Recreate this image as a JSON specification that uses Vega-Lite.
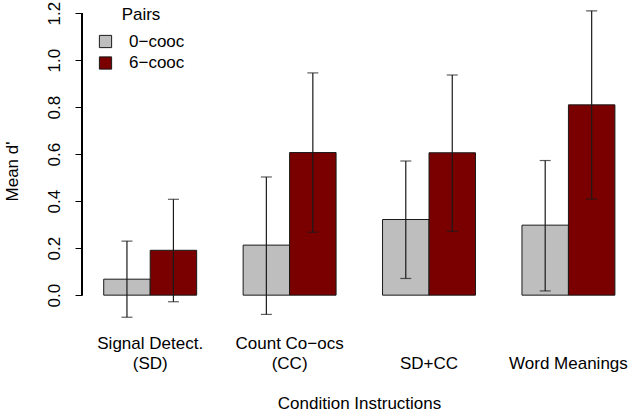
{
  "$schema": "https://vega.github.io/schema/vega-lite/v6.json",
  "autosize": "none",
  "width": 548,
  "height": 316,
  "padding": {"left": 82, "top": 5, "right": 0, "bottom": 93},
  "background": "white",
  "config": {
    "view": {"stroke": null},
    "font": "Liberation Sans",
    "axis": {"labelFont": "Liberation Sans", "titleFont": "Liberation Sans", "labelColor": "black", "titleColor": "black", "labelFontSize": 17, "titleFontSize": 17, "titleFontWeight": "normal", "grid": false},
    "legend": {"labelFont": "Liberation Sans", "titleFont": "Liberation Sans"}
  },
  "data": {"values": [
    {"condition": "Signal Detect.\n(SD)", "pairs": "0−cooc", "mean": 0.068, "lo": -0.094, "hi": 0.23},
    {"condition": "Signal Detect.\n(SD)", "pairs": "6−cooc", "mean": 0.191, "lo": -0.028, "hi": 0.408},
    {"condition": "Count Co−ocs\n(CC)", "pairs": "0−cooc", "mean": 0.213, "lo": -0.082, "hi": 0.503},
    {"condition": "Count Co−ocs\n(CC)", "pairs": "6−cooc", "mean": 0.607, "lo": 0.268, "hi": 0.946},
    {"condition": "\nSD+CC", "pairs": "0−cooc", "mean": 0.322, "lo": 0.071, "hi": 0.571},
    {"condition": "\nSD+CC", "pairs": "6−cooc", "mean": 0.606, "lo": 0.272, "hi": 0.937},
    {"condition": "\nWord Meanings", "pairs": "0−cooc", "mean": 0.298, "lo": 0.018, "hi": 0.573},
    {"condition": "\nWord Meanings", "pairs": "6−cooc", "mean": 0.81, "lo": 0.409, "hi": 1.21}
  ]},
  "resolve": {"scale": {"x": "independent"}, "axis": {"x": "independent"}},
  "layer": [
    {
      "encoding": {
        "x": {"field": "condition", "type": "nominal", "sort": null,
              "scale": {"paddingInner": 0.3333, "paddingOuter": 0.132, "align": 0.59},
              "axis": {"title": "Condition Instructions", "domain": false, "ticks": false, "tickSize": 0, "labelAngle": 0, "labelPadding": 14, "labelLineHeight": 20, "labelBaseline": "top",
                       "labelExpr": "split(datum.label, '\\n')", "titleX": 277, "titleY": 74, "titleBaseline": "top", "titleAnchor": "start", "titleAlign": "center"}},
        "xOffset": {"field": "pairs", "type": "nominal", "scale": {"paddingInner": 0, "paddingOuter": 0}}
      },
      "layer": [
        {
          "mark": {"type": "bar", "stroke": "#1a1a1a", "strokeWidth": 1},
          "encoding": {
            "y": {"field": "mean", "type": "quantitative",
                  "scale": {"domain": [-0.11, 1.235], "nice": false, "zero": false},
                  "axis": {"title": "Mean d'", "values": [0, 0.2, 0.4, 0.6, 0.8, 1.0, 1.2], "format": ".1f", "domain": false, "tickSize": 7, "tickColor": "black", "tickWidth": 1,
                           "labelAngle": 270, "labelAlign": "center", "labelBaseline": "alphabetic", "labelPadding": 16,
                           "titleX": -65, "titleY": 166, "titleAngle": 270, "titleBaseline": "alphabetic", "titleAlign": "center", "titleAnchor": "start"}},
            "color": {"field": "pairs", "type": "nominal",
                      "scale": {"domain": ["0−cooc", "6−cooc"], "range": ["#BEBEBE", "#7A0000"]},
                      "legend": {"title": "Pairs", "orient": "none", "legendX": 15, "legendY": 2, "titleFontSize": 17, "titleFontWeight": "normal", "titleColor": "black", "titleAnchor": "middle", "titlePadding": 9,
                                 "labelFontSize": 17, "labelColor": "black", "labelOffset": 15, "symbolType": "square", "symbolSize": 150, "symbolStrokeColor": "#1a1a1a", "symbolStrokeWidth": 1, "rowPadding": 3.5}}
          }
        },
        {
          "mark": {"type": "rule", "color": "#1a1a1a", "strokeWidth": 1.2},
          "encoding": {"y": {"field": "lo", "type": "quantitative"}, "y2": {"field": "hi"}}
        },
        {
          "mark": {"type": "tick", "color": "#1a1a1a", "thickness": 1.2, "size": 11},
          "encoding": {"y": {"field": "hi", "type": "quantitative"}}
        },
        {
          "mark": {"type": "tick", "color": "#1a1a1a", "thickness": 1.2, "size": 11},
          "encoding": {"y": {"field": "lo", "type": "quantitative"}}
        }
      ]
    },
    {
      "mark": {"type": "rule", "color": "black", "strokeWidth": 1},
      "encoding": {
        "x": {"datum": 0, "type": "quantitative", "scale": {"domain": [0, 1]}, "axis": null},
        "y": {"datum": 0, "type": "quantitative"},
        "y2": {"datum": 1.2}
      }
    }
  ]
}
